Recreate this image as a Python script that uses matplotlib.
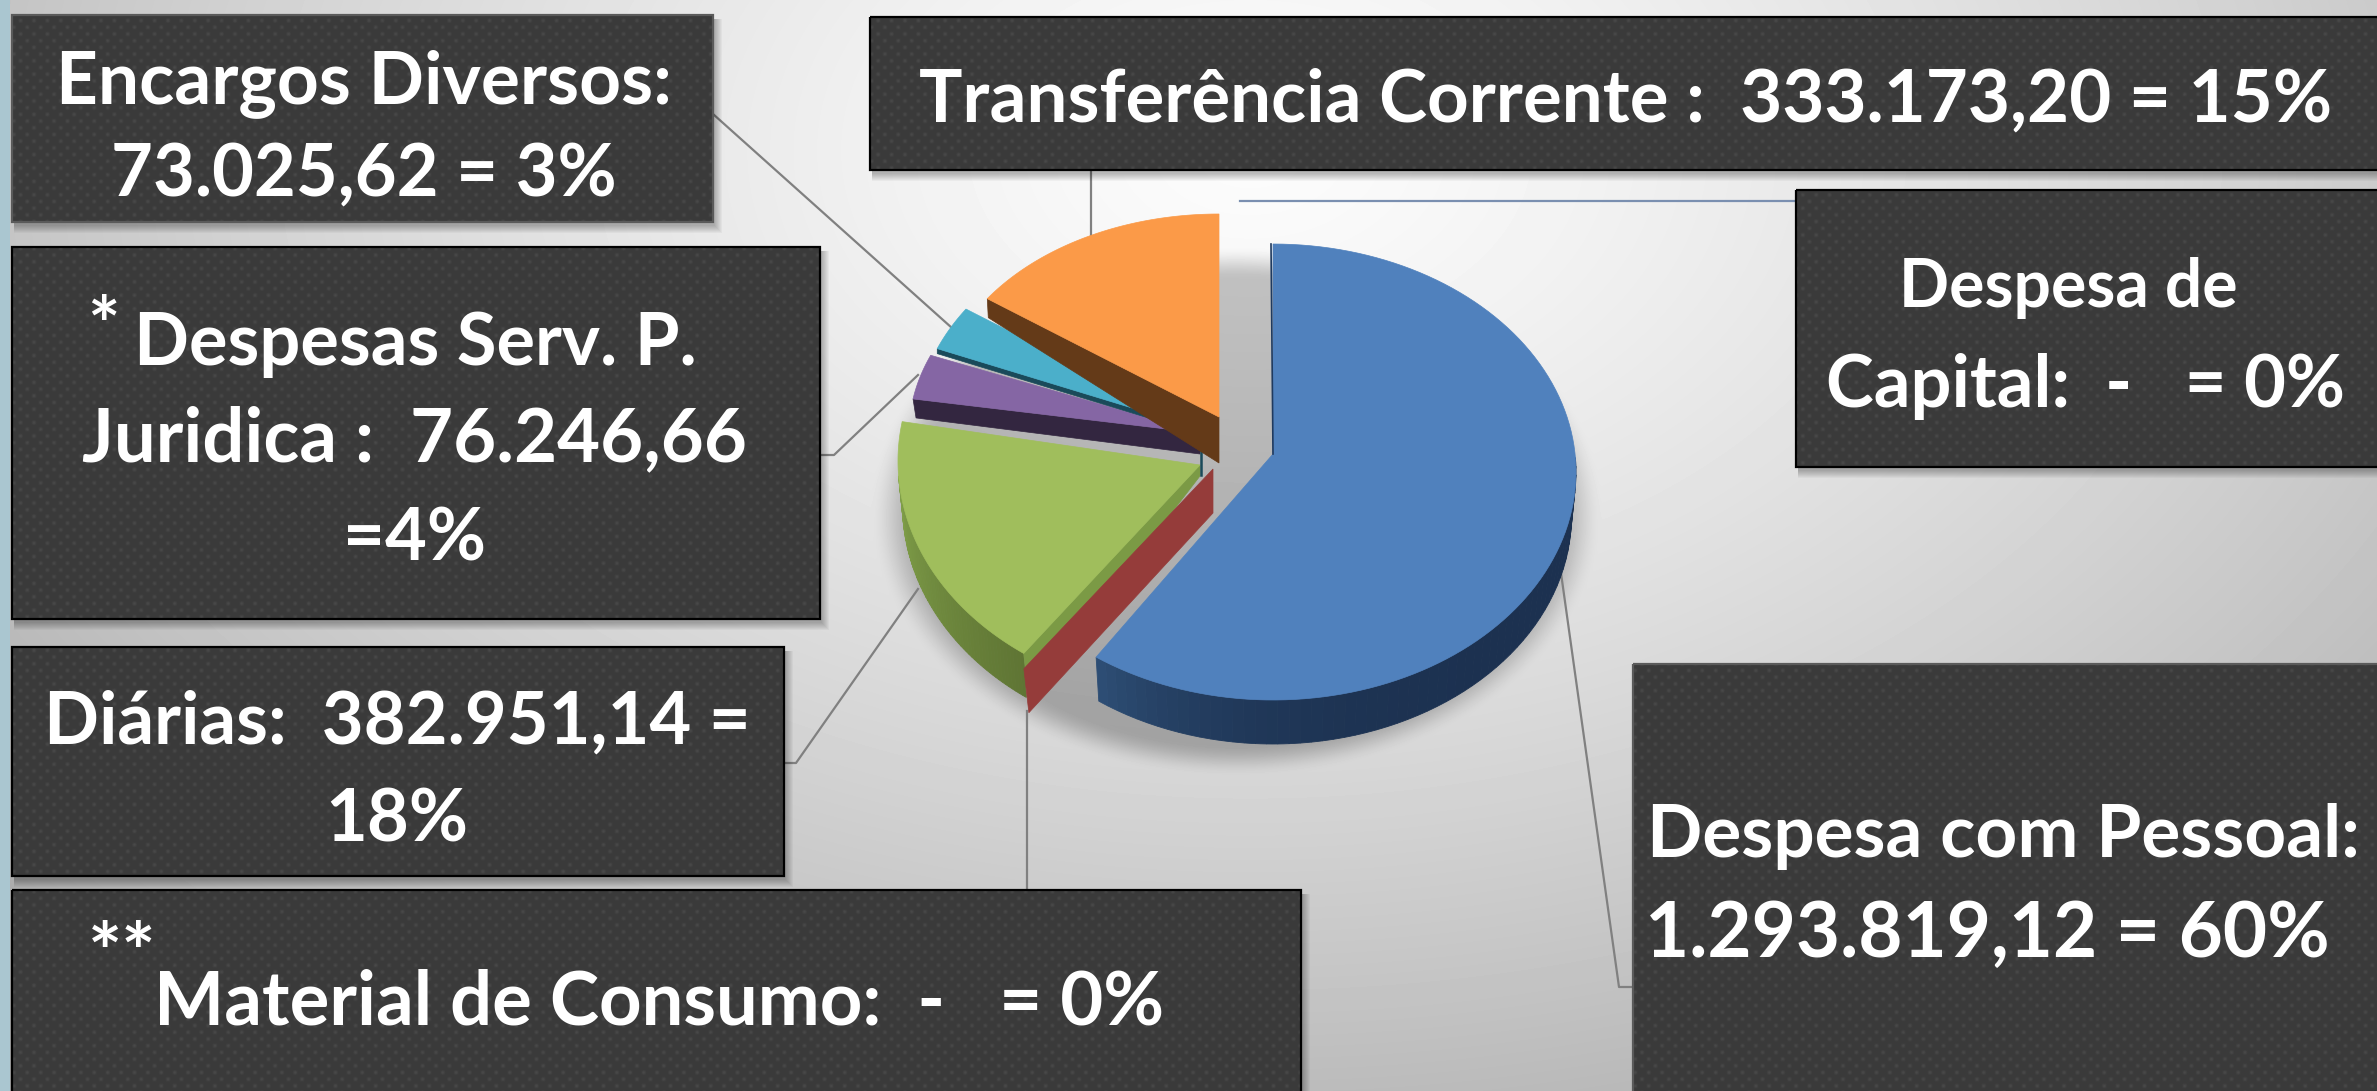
import numpy as np
import matplotlib
matplotlib.use('Agg')
import matplotlib.pyplot as plt
from matplotlib.patches import Polygon, Rectangle

# despesas, in slice order (clockwise from the top)
names = ['Despesa com Pessoal', 'Material de Consumo', 'Diarias', 'Despesas Serv. P. Juridica',
         'Encargos Diversos', 'Transferencia Corrente', 'Despesa de Capital']
values = [1293819.12, 0, 382951.14, 76246.66, 73025.62, 333173.20, 0]

top_colors = ['#5081bd', '#953c3a', '#a0be5c', '#8566a4', '#4bafca', '#fb9a48', '#5081bd']

# apex x, apex y, rx, ry, tilt of each exploded slice
geom = [(1273, 454, 303, 228, 18),
        (1213, 469, 324, 246, 0),
        (1200, 465, 302, 237, -4),
        (1200, 433, 291, 205, 0),
        (1201, 429, 285, 212, 0),
        (1219, 417, 281, 195, -8),
        (1219, 417, 281, 195, -8)]

W, H = 2377, 1091
FONT = 'Lato'
FS = 52

fracs = np.array(values) / np.sum(values)
ends = np.cumsum(fracs)
starts = ends - fracs


def rim(i, f, drop=0, shrink=1.0):
    x0, y0, rx, ry, t = geom[i]
    a = 2 * np.pi * np.asarray(f)
    return np.column_stack([x0 + shrink * rx * np.sin(a), y0 - ry * np.cos(a) + t + drop])


def top_face(ax, i, z):
    arc = rim(i, np.linspace(starts[i], ends[i], 120))
    pts = np.vstack([[geom[i][0], geom[i][1]], arc])
    ax.add_patch(Polygon(pts, closed=True, fc=top_colors[i], ec=top_colors[i], lw=0.5, zorder=z))


def outer_wall(ax, i, f0, f1, drop, c0, c1, z, ramp=1):
    # strips so the side gets a left to right shading
    fs = np.linspace(f0, f1, 61)
    c0 = np.array(matplotlib.colors.to_rgb(c0))
    c1 = np.array(matplotlib.colors.to_rgb(c1))
    for k in range(60):
        ff = np.linspace(fs[k], fs[k + 1], 3)
        up = rim(i, ff)
        lo = rim(i, ff, drop, 0.985)[::-1]
        col = c0 + (c1 - c0) * (k / 59) ** ramp
        ax.add_patch(Polygon(np.vstack([up, lo]), closed=True, fc=col, ec=col, lw=0.6, zorder=z))


def side_wall(ax, i, f, apex_drop, rim_drop, col, z, dx=0):
    x0, y0 = geom[i][:2]
    r = rim(i, [f])[0]
    pts = [(x0, y0), tuple(r), (r[0] + dx, r[1] + rim_drop), (x0, y0 + apex_drop)]
    ax.add_patch(Polygon(pts, closed=True, fc=col, ec=col, lw=0.5, zorder=z))


def box(ax, x0, y0, x1, y1, edge='#5a5a5a', z=20):
    # soft shadow first
    for k in range(8):
        ax.add_patch(Rectangle((x0 + 2, y0 + 4), x1 - x0 + k, y1 - y0 + k, fc='k', alpha=0.035, ec='none', zorder=z - 1))
    yy, xx = np.mgrid[y0:y1, x0:x1]
    dots = np.cos(2 * np.pi * xx / 13.4) * np.cos(2 * np.pi * yy / 13.4)
    img = 58 + 14 * np.clip(dots, 0, 1) ** 2
    ax.imshow(img, cmap='gray', vmin=0, vmax=255, extent=(x0, x1, y1, y0), aspect='auto',
              interpolation='bilinear', zorder=z)
    ax.add_patch(Rectangle((x0, y0), x1 - x0, y1 - y0, fc='none', ec=edge, lw=1.6, zorder=z + 1))


def label(ax, x, y, s, size=FS):
    ax.text(x, y, s, color='white', fontsize=size, fontweight='bold', family=FONT,
            ha='center', va='center', zorder=30)


fig = plt.figure(figsize=(W / 100, H / 100), dpi=100)
ax = fig.add_axes([0, 0, 1, 1])

# background: pale in the middle, grey to the corners, soft shadow under the pie
yy, xx = np.mgrid[0:H, 0:W]
d = np.hypot((xx - 1250) / 1500, (yy - 150) / 1000)
bg = 252 - 70 * np.clip(d, 0, 1.2) ** 1.3
e = np.hypot((xx - 1236) / 356, (yy - 511) / 258)
sh = np.clip((1.03 - e) / 0.13, 0, 1)
bg = bg - 55 * sh * sh * (3 - 2 * sh)
ax.imshow(bg, cmap='gray', vmin=0, vmax=255, extent=(0, W, H, 0), aspect='auto', zorder=0)
ax.add_patch(Rectangle((0, 0), 10, H, fc='#aac6d0', ec='none', zorder=1))

# leader lines
leaders = [[(713, 114), (952, 328)],
           [(820, 455), (834, 455), (918, 375)],
           [(784, 763), (796, 763), (918, 589)],
           [(1027, 711), (1027, 891)],
           [(1633, 987), (1619, 987), (1560, 566)],
           [(1091, 170), (1091, 237)]]
for ln in leaders:
    ax.plot([p[0] for p in ln], [p[1] for p in ln], color='#808080', lw=1.6, zorder=3)
ax.plot([1240, 1796], [201, 201], color='#7a8fb0', lw=1.6, zorder=3)

# pie, back to front
outer_wall(ax, 2, starts[2], 0.74, 44, '#5f7534', '#7f9e48', 5)
side_wall(ax, 2, starts[2], 11, 44, '#7b9a45', 6, dx=5)
top_face(ax, 2, 7)
side_wall(ax, 3, starts[3], 21, 19, '#332640', 8, dx=3)
top_face(ax, 3, 9)
side_wall(ax, 4, starts[4], 5, 5, '#1a4a5a', 10)
ax.plot([1201, 1201], [429, 475], color='#1a4a5a', lw=1.8, zorder=10)
top_face(ax, 4, 11)
side_wall(ax, 5, starts[5], 46, 19, '#643a18', 12, dx=1)
top_face(ax, 5, 13)
side_wall(ax, 1, starts[1], 44, 44, '#953c3a', 14, dx=5)
outer_wall(ax, 0, 0.24, ends[0], 44, '#1c3150', '#2d4d74', 15, ramp=5)
top_face(ax, 0, 16)
ax.plot([1271, 1273], [244, 454], color='#1f3a5f', lw=1.2, zorder=17)

# boxes
box(ax, 12, 15, 713, 222)
box(ax, 12, 247, 820, 619, edge='#000000')
box(ax, 12, 647, 784, 876, edge='#000000')
box(ax, 12, 890, 1301, H + 5, edge='#000000')
box(ax, 870, 17, W + 5, 170, edge='#000000')
box(ax, 1796, 190, W + 5, 467, edge='#000000')
box(ax, 1633, 664, W + 5, H + 5)

label(ax, 364, 84, 'Encargos Diversos:', 52.5)
label(ax, 364, 175, '73.025,62 = 3%')
label(ax, 415, 344, 'Despesas Serv. P.')
label(ax, 415, 440, 'Juridica :  76.246,66', 53.5)
label(ax, 415, 540, '=4%')
label(ax, 103, 330, '*', 55)
label(ax, 397, 723, 'Diárias:  382.951,14 =')
label(ax, 397, 821, '18%')
label(ax, 659, 1003, 'Material de Consumo:  -   = 0%', 53.5)
label(ax, 122, 958, '**', 58)
label(ax, 1626, 101, 'Transferência Corrente :  333.173,20 = 15%', 52.3)
label(ax, 2068, 288, 'Despesa de', 47.5)
label(ax, 2086, 387, 'Capital:  -   = 0%')
label(ax, 2003, 837, 'Despesa com Pessoal:', 52.5)
label(ax, 1987, 935, '1.293.819,12 = 60%', 55)

ax.set_xlim(0, W)
ax.set_ylim(H, 0)
ax.axis('off')
fig.savefig('out.png', dpi=100)
